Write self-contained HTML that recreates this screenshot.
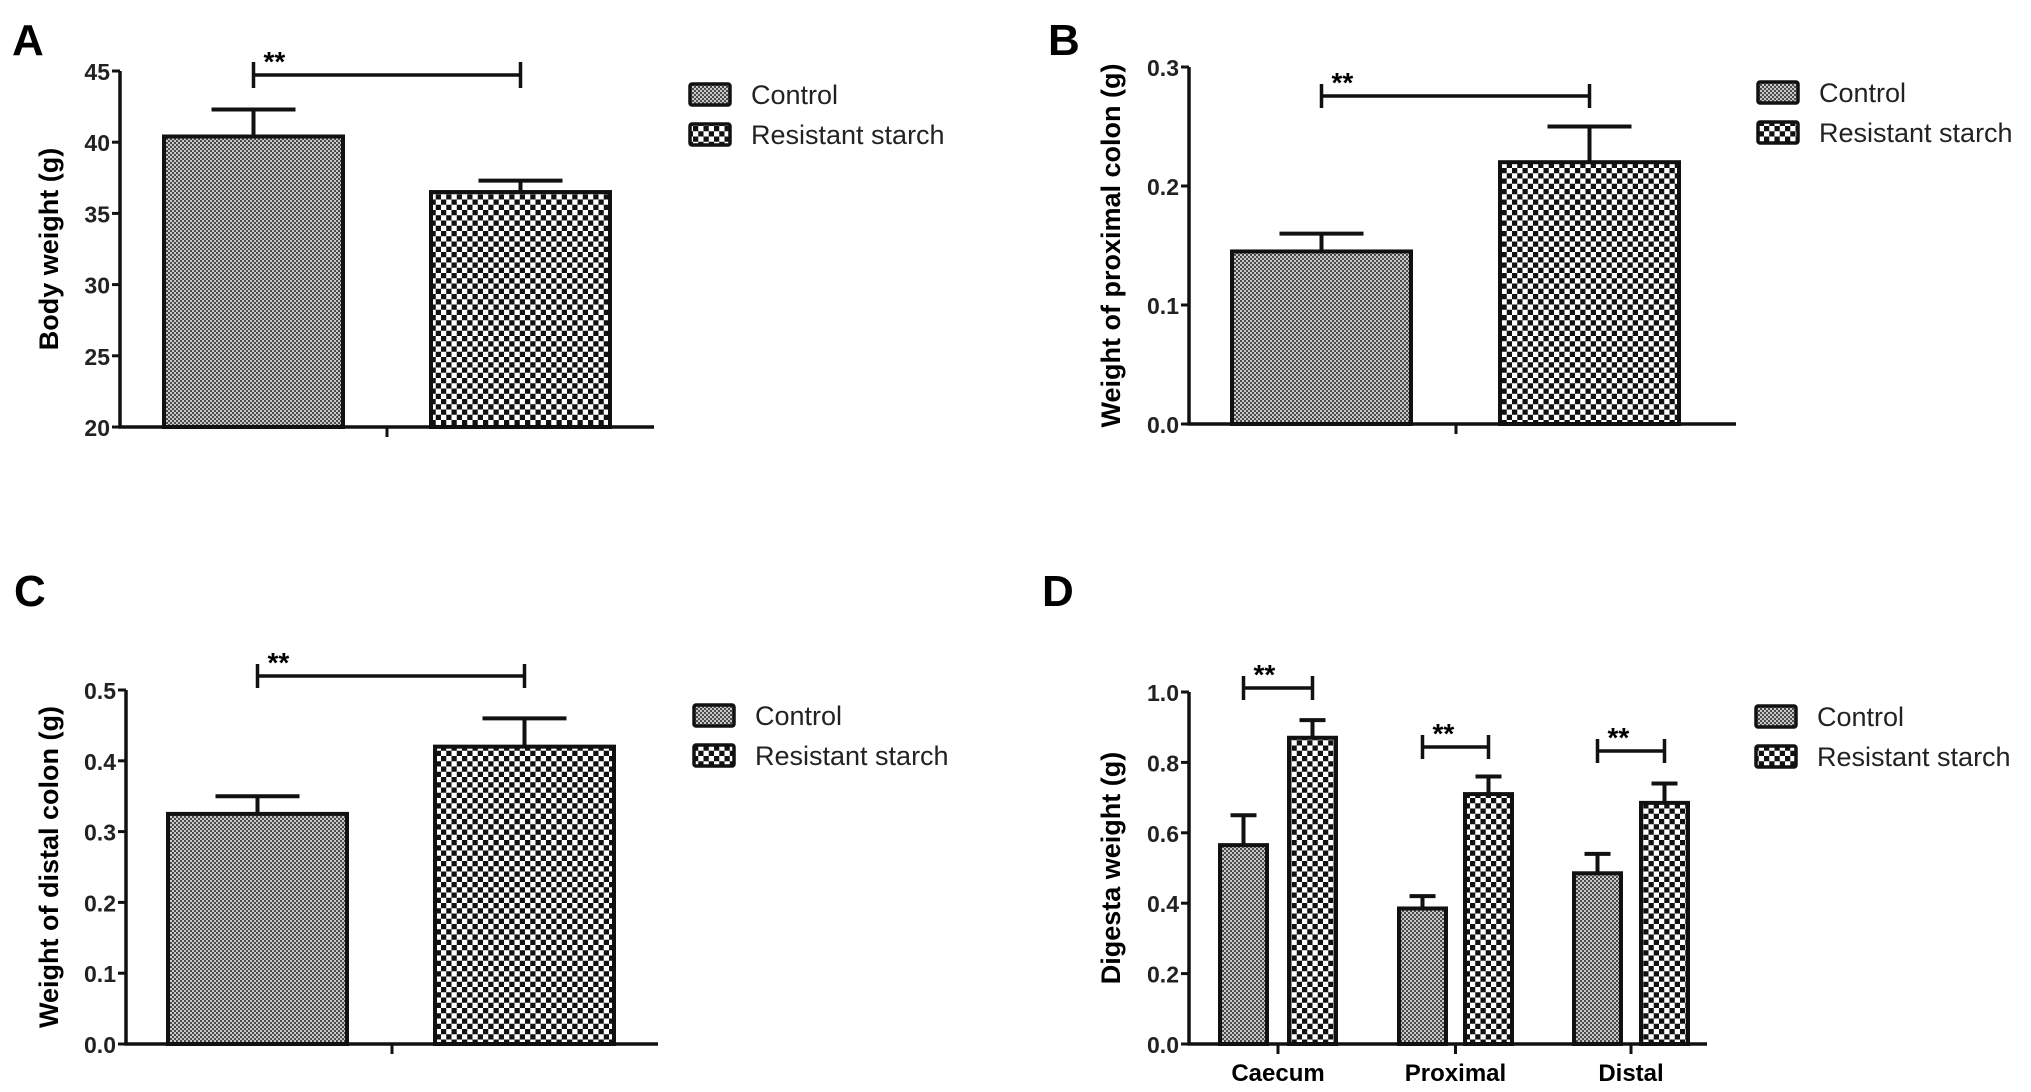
<!DOCTYPE html>
<html><head><meta charset="utf-8">
<style>
html,body{margin:0;padding:0;background:#fff;}
svg{display:block;}
text{font-family:"Liberation Sans",sans-serif;}
</style></head>
<body>
<svg id="fig" width="2031" height="1092" viewBox="0 0 2031 1092" xmlns="http://www.w3.org/2000/svg">
<defs>
<pattern id="pCtrl" width="4" height="4" patternUnits="userSpaceOnUse">
<rect width="4" height="4" fill="#c8c8c8"/><rect width="2" height="2" fill="#4a4a4a"/><rect x="2" y="2" width="2" height="2" fill="#4a4a4a"/>
</pattern>
<pattern id="pRS" width="10.5" height="10.5" patternUnits="userSpaceOnUse">
<rect width="10.5" height="10.5" fill="#fff"/><rect width="5.25" height="5.25" fill="#111"/><rect x="5.25" y="5.25" width="5.25" height="5.25" fill="#111"/>
</pattern>
</defs>
</svg>
<script>
// Panel A
const aCategories = [""];
const aControl = [40.4];
const aControlErr = [42.3];
const aRS = [36.5];
const aRSErr = [37.3];
const aTicks = [20,25,30,35,40,45];
// Panel B
const bCategories = [""];
const bControl = [0.145];
const bControlErr = [0.16];
const bRS = [0.22];
const bRSErr = [0.25];
const bTicks = [0.0,0.1,0.2,0.3];
// Panel C
const cCategories = [""];
const cControl = [0.325];
const cControlErr = [0.35];
const cRS = [0.42];
const cRSErr = [0.46];
const cTicks = [0.0,0.1,0.2,0.3,0.4,0.5];
// Panel D
const dCategories = ["Caecum","Proximal","Distal"];
const dControl = [0.565,0.385,0.485];
const dControlErr = [0.65,0.42,0.54];
const dRS = [0.87,0.71,0.685];
const dRSErr = [0.92,0.76,0.74];
const dTicks = [0.0,0.2,0.4,0.6,0.8,1.0];
const legendLabels = ["Control","Resistant starch"];

const NS="http://www.w3.org/2000/svg";
const svg=document.getElementById('fig');
function mk(tag,attrs,parent){const e=document.createElementNS(NS,tag);for(const k in attrs)e.setAttribute(k,attrs[k]);(parent||svg).appendChild(e);return e;}

function panel(cfg){
  const g=mk('g',{});
  
  
  const ymin=cfg.ticks[0], ymax=cfg.ticks[cfg.ticks.length-1];
  const y=v=>cfg.y0+(v-ymin)/(ymax-ymin)*(cfg.y1-cfg.y0);
  const L=mk('text',{x:cfg.lx,y:cfg.ly,'font-size':44,'font-weight':'bold'},g);L.textContent=cfg.id;
  
  
  const n=cfg.cats.length;
  for(let i=0;i<n;i++){
    const pairs=[[cfg.ctrl[i],cfg.ctrlErr[i],cfg.bx[i][0],'url(#pCtrl)','control'],[cfg.rs[i],cfg.rsErr[i],cfg.bx[i][1],'url(#pRS)','resistant-starch']];
    pairs.forEach(p=>{
      const top=y(p[0]);const cx=p[2]+cfg.bw/2;
      const el=mk('line',{x1:cx,x2:cx,y1:top,y2:y(p[1]),stroke:'#111','stroke-width':4},g);
      
      
      const cap=mk('line',{x1:cx-cfg.cap,x2:cx+cfg.cap,y1:y(p[1]),y2:y(p[1]),stroke:'#111','stroke-width':4},g);
      
      
      const r=mk('rect',{x:p[2],y:top,width:cfg.bw,height:cfg.y0-top,fill:p[3],stroke:'#111','stroke-width':4},g);
      
      
    });
    const bx1=cfg.bx[i][0]+cfg.bw/2, bx2=cfg.bx[i][1]+cfg.bw/2, by=cfg.sigY[i];
    const br=mk('path',{d:`M${bx1} ${by-cfg.sigH} V${by+cfg.sigH} M${bx1} ${by} H${bx2} M${bx2} ${by-cfg.sigH} V${by+cfg.sigH}`,stroke:'#111','stroke-width':3.5,fill:'none'},g);
    
    
    const st=mk('text',{x:bx1+10,y:by-4,'font-size':28,'font-weight':'bold'},g);st.textContent='**';
    
    
    if(cfg.cats[i]){
      const cx=(bx1+bx2)/2;
      mk('line',{x1:cx,x2:cx,y1:cfg.y0,y2:cfg.y0+10,stroke:'#111','stroke-width':3},g);
      const ct=mk('text',{x:cx,y:cfg.y0+37,'font-size':24,'font-weight':'bold','text-anchor':'middle'},g);ct.textContent=cfg.cats[i];
      
      
    }
  }
  if(!cfg.cats[0]){
    mk('line',{x1:cfg.midTick,x2:cfg.midTick,y1:cfg.y0,y2:cfg.y0+10,stroke:'#111','stroke-width':3},g);
  }
  const ax=mk('path',{d:`M${cfg.ax} ${cfg.y1} V${cfg.y0} H${cfg.axEnd}`,stroke:'#111','stroke-width':3.5,fill:'none'},g);
  
  
  cfg.ticks.forEach(t=>{
    mk('line',{x1:cfg.ax-8,x2:cfg.ax,y1:y(t),y2:y(t),stroke:'#111','stroke-width':3},g);
    const tl=mk('text',{x:cfg.ax-10,y:y(t)+9,'font-size':23,'font-weight':'bold','text-anchor':'end',fill:'#222'},g);
    tl.textContent=cfg.fmt(t);
    
    
  });
  const yt=mk('text',{x:0,y:0,'font-size':27,'font-weight':'bold','text-anchor':'middle',transform:`translate(${cfg.tx},${(cfg.y0+cfg.y1)/2+cfg.tdy}) rotate(-90)`},g);
  yt.textContent=cfg.title;
  
  
  legendLabels.forEach((lab,k)=>{
    const ly=cfg.legY+k*40;
    const sw=mk('rect',{x:cfg.legX,y:ly,width:40,height:21,fill:k?'url(#pRS)':'url(#pCtrl)',stroke:'#111','stroke-width':3.5,rx:2},g);
    
    
    const lt=mk('text',{x:cfg.legX+61,y:ly+20,'font-size':27,fill:'#222'},g);lt.textContent=lab;
    
    
  });
}

const f0=t=>String(t), f1=t=>t.toFixed(1);
panel({id:'A',lx:12,ly:55,cats:aCategories,ctrl:aControl,ctrlErr:aControlErr,rs:aRS,rsErr:aRSErr,ticks:aTicks,fmt:f0,
  y0:427,y1:71,ax:120,axEnd:654,bx:[[164,431]],bw:179,cap:42,sigY:[75],sigH:13,midTick:387,
  title:'Body weight (g)',tx:58,tdy:0,legX:690,legY:84});
panel({id:'B',lx:1048,ly:55,cats:bCategories,ctrl:bControl,ctrlErr:bControlErr,rs:bRS,rsErr:bRSErr,ticks:bTicks,fmt:f1,
  y0:424,y1:67,ax:1189,axEnd:1736,bx:[[1232,1500]],bw:179,cap:42,sigY:[96],sigH:12,midTick:1456,
  title:'Weight of proximal colon (g)',tx:1120,tdy:0,legX:1758,legY:82});
panel({id:'C',lx:14,ly:606,cats:cCategories,ctrl:cControl,ctrlErr:cControlErr,rs:cRS,rsErr:cRSErr,ticks:cTicks,fmt:f1,
  y0:1044,y1:690,ax:126,axEnd:658,bx:[[168,435]],bw:179,cap:42,sigY:[676],sigH:12,midTick:392,
  title:'Weight of distal colon (g)',tx:58,tdy:0,legX:694,legY:705});
panel({id:'D',lx:1042,ly:606,cats:dCategories,ctrl:dControl,ctrlErr:dControlErr,rs:dRS,rsErr:dRSErr,ticks:dTicks,fmt:f1,
  y0:1044,y1:692,ax:1189,axEnd:1707,bx:[[1220,1289],[1399,1465],[1574,1641]],bw:47,cap:13,sigY:[688,747,751],sigH:12,
  title:'Digesta weight (g)',tx:1120,tdy:0,legX:1756,legY:706});
</script>
</body></html>
